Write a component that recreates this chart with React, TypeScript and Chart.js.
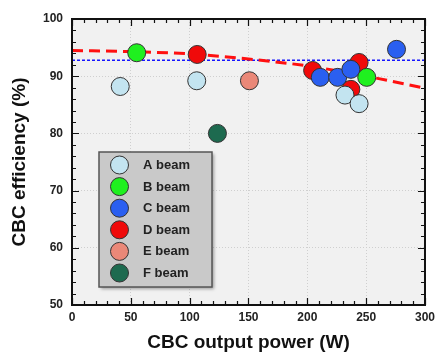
import React, { useEffect, useRef } from "react";
import { Chart, registerables } from "chart.js";
Chart.register(...registerables);

const beamNames = ["A beam", "B beam", "C beam", "D beam", "E beam", "F beam"];
const beamColors = ["#c3e4f0", "#1ff01f", "#2a5ff0", "#f00a0a", "#ea8878", "#1d6a4f"];

const aPower = [41, 106, 232, 244];
const aEff = [88.2, 89.2, 86.7, 85.2];
const bPower = [55, 250.5];
const bEff = [94.1, 89.8];
const cPower = [275.8, 211, 225.8, 237];
const cEff = [94.7, 89.8, 89.8, 91.2];
const dPower = [106.4, 204.5, 244, 237];
const dEff = [93.8, 91.0, 92.4, 87.7];
const ePower = [150.8];
const eEff = [89.2];
const fPower = [123.6];
const fEff = [80.0];

const fitPower = [0, 50, 100, 150, 200, 250, 300];
const fitEff = [94.5, 94.3, 93.9, 93.0, 91.8, 90.0, 87.9];
const thresholdPower = [0, 300];
const thresholdEff = [92.8, 92.8];

const xMin = 0, xMax = 300, xMajor = 50, xMinor = 10;
const yMin = 50, yMax = 100, yMajor = 10, yMinor = 2;

const FONT = "'Liberation Sans', Arial, sans-serif";

const beamPowers = [aPower, bPower, cPower, dPower, ePower, fPower];
const beamEffs = [aEff, bEff, cEff, dEff, eEff, fEff];

const zip = (xs: number[], ys: number[]) => xs.map((x, i) => ({ x, y: ys[i] }));

const bgPlugin = {
  id: "bgPlugin",
  beforeDraw(chart: any) {
    const { ctx, chartArea: a } = chart;
    ctx.save();
    ctx.fillStyle = "#f1f1f1";
    ctx.fillRect(a.left, a.top, a.right - a.left, a.bottom - a.top);
    ctx.restore();
  },
};

const framePlugin = {
  id: "framePlugin",
  afterDatasetsDraw(chart: any) {
    const { ctx, chartArea: a, scales } = chart;
    const xs = scales.x, ys = scales.y;
    ctx.save();
    ctx.strokeStyle = "#111";
    ctx.lineWidth = 1.2;
    ctx.beginPath();
    for (let v = xMin; v <= xMax + 1e-6; v += xMinor) {
      const p = Math.round(xs.getPixelForValue(v)) + 0.5;
      const len = Math.abs(v % xMajor) < 1e-6 ? 7 : 4;
      ctx.moveTo(p, a.bottom); ctx.lineTo(p, a.bottom - len);
      ctx.moveTo(p, a.top); ctx.lineTo(p, a.top + len);
    }
    for (let v = yMin; v <= yMax + 1e-6; v += yMinor) {
      const p = Math.round(ys.getPixelForValue(v)) + 0.5;
      const len = Math.abs(v % yMajor) < 1e-6 ? 7 : 4;
      ctx.moveTo(a.left, p); ctx.lineTo(a.left + len, p);
      ctx.moveTo(a.right, p); ctx.lineTo(a.right - len, p);
    }
    ctx.stroke();
    ctx.lineWidth = 2;
    ctx.strokeRect(a.left, a.top, a.right - a.left, a.bottom - a.top);
    ctx.restore();
  },
};

const legendPlugin = {
  id: "legendPlugin",
  afterDraw(chart: any) {
    const { ctx } = chart;
    const bx = 99, by = 152, bw = 113, bh = 135;
    ctx.save();
    ctx.shadowColor = "rgba(0,0,0,0.35)";
    ctx.shadowOffsetX = 2;
    ctx.shadowOffsetY = 2;
    ctx.shadowBlur = 3;
    ctx.fillStyle = "#c9c9c9";
    ctx.fillRect(bx, by, bw, bh);
    ctx.shadowColor = "transparent";
    ctx.strokeStyle = "#555";
    ctx.lineWidth = 1.5;
    ctx.strokeRect(bx, by, bw, bh);
    ctx.font = `bold 13px ${FONT}`;
    ctx.textBaseline = "middle";
    ctx.textAlign = "left";
    beamNames.forEach((name, i) => {
      const cy = 165 + i * 21.6;
      ctx.beginPath();
      ctx.arc(119.5, cy, 9, 0, Math.PI * 2);
      ctx.fillStyle = beamColors[i];
      ctx.fill();
      ctx.lineWidth = 1;
      ctx.strokeStyle = "#333";
      ctx.stroke();
      ctx.fillStyle = "#222";
      ctx.fillText(name, 143, cy + 0.5);
    });
    ctx.restore();
  },
};

export default function App() {
  const ref = useRef<HTMLCanvasElement>(null);
  useEffect(() => {
    if (!ref.current) return;
    const beamSets = beamNames.map((name, i) => ({
      type: "scatter" as const,
      label: name,
      data: zip(beamPowers[i], beamEffs[i]),
      backgroundColor: beamColors[i],
      borderColor: "#333",
      borderWidth: 1,
      pointRadius: 9,
      pointHoverRadius: 9,
    }));
    const chart = new Chart(ref.current, {
      type: "scatter",
      data: {
        datasets: [
          ...beamSets,
          {
            type: "line",
            label: "fit",
            data: zip(fitPower, fitEff),
            borderColor: "#ff1010",
            borderWidth: 3,
            borderDash: [11, 6],
            pointRadius: 0,
            tension: 0.4,
            cubicInterpolationMode: "monotone",
            fill: false,
          } as any,
          {
            type: "line",
            label: "threshold",
            data: zip(thresholdPower, thresholdEff),
            borderColor: "#1515ff",
            borderWidth: 1.6,
            borderDash: [3, 2],
            pointRadius: 0,
            fill: false,
          } as any,
        ],
      },
      options: {
        responsive: false,
        animation: false,
        devicePixelRatio: 1,
        layout: { padding: { top: 19, right: 12, left: 0, bottom: 0 } },
        plugins: { legend: { display: false }, tooltip: { enabled: false } },
        scales: {
          x: {
            type: "linear",
            min: xMin,
            max: xMax,
            ticks: {
              stepSize: xMajor,
              padding: 5,
              color: "#222",
              font: { family: FONT, size: 12, weight: "bold" },
            },
            grid: { color: "#cfcfcf", drawTicks: false, lineWidth: 1 },
            border: { display: false, dash: [1, 2] },
            title: {
              display: true,
              text: "CBC output power (W)",
              color: "#111",
              font: { family: FONT, size: 19, weight: "bold", lineHeight: 1 },
              padding: { top: 0, bottom: 0 },
            },
            afterFit: (s: any) => { s.height = 47; },
          },
          y: {
            type: "linear",
            min: yMin,
            max: yMax,
            ticks: {
              stepSize: yMajor,
              padding: 9,
              color: "#222",
              font: { family: FONT, size: 12, weight: "bold" },
            },
            grid: { color: "#cfcfcf", drawTicks: false, lineWidth: 1 },
            border: { display: false, dash: [1, 2] },
            title: {
              display: true,
              text: "CBC efficiency (%)",
              color: "#111",
              font: { family: FONT, size: 19, weight: "bold", lineHeight: 1 },
              padding: { top: 10.5, bottom: 0 },
            },
            afterFit: (s: any) => { s.width = 72; },
          },
        },
      },
      plugins: [bgPlugin, framePlugin, legendPlugin],
    } as any);
    return () => chart.destroy();
  }, []);
  return (
    <div style={{ position: "fixed", left: 0, top: 0, width: 440, height: 352, background: "#fff" }}>
      <canvas ref={ref} width={440} height={352} />
    </div>
  );
}
